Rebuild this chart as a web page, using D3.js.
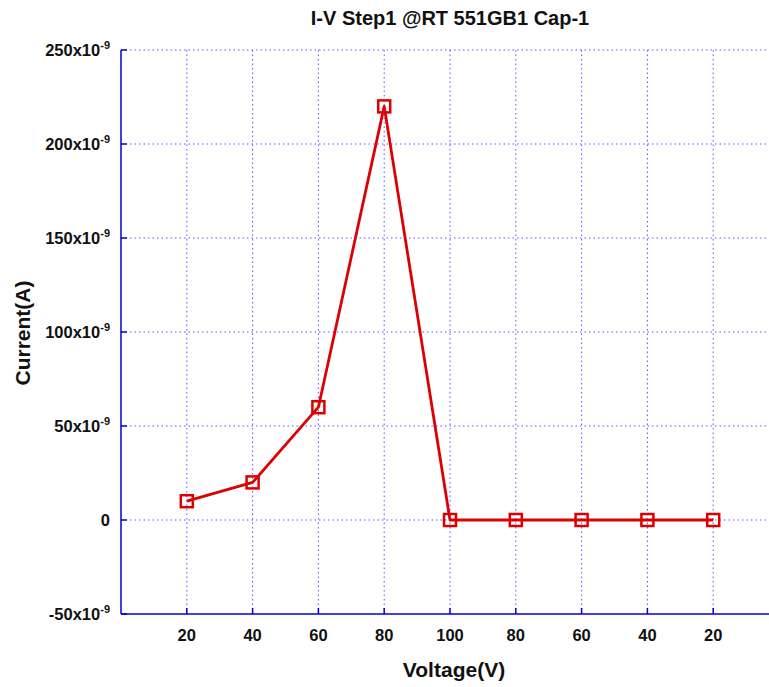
<!DOCTYPE html>
<html><head><meta charset="utf-8">
<script src="https://cdn.jsdelivr.net/npm/d3@7"></script>
<style>body{margin:0;background:#fff;overflow:hidden}svg{display:block;font-family:"Liberation Sans",Arial,sans-serif;font-weight:bold}</style>
</head><body>
<script>
const categories = ["20","40","60","80","100","80","60","40","20"];
const currentValues = [10e-9, 20e-9, 60e-9, 220e-9, 0, 0, 0, 0, 0];
const yTicks = [-50e-9, 0, 50e-9, 100e-9, 150e-9, 200e-9, 250e-9];
const yTickMantissa = ["-50", "0", "50", "100", "150", "200", "250"];

const W = 769, H = 687;
const svg = d3.select("body").append("svg").attr("width", W).attr("height", H);
const pLeft = 121, pTop = 50, pBottom = 614;
const x = d3.scaleLinear().domain([0, 10]).range([pLeft, 779]);
const y = d3.scaleLinear().domain([-50e-9, 250e-9]).range([pBottom, pTop]);

const gridColor = "#3a3aff";
// horizontal grid
svg.append("g").selectAll("line").data(yTicks.filter(v => v > -50e-9)).join("line")
  .attr("x1", pLeft).attr("x2", W).attr("y1", d => y(d)).attr("y2", d => y(d))
  .attr("stroke", gridColor).attr("stroke-width", 1).attr("stroke-dasharray", "1.5,3").attr("opacity", 0.85);
// vertical grid
svg.append("g").selectAll("line").data(categories.map((c, i) => i + 1)).join("line")
  .attr("x1", d => x(d)).attr("x2", d => x(d)).attr("y1", pTop).attr("y2", pBottom)
  .attr("stroke", gridColor).attr("stroke-width", 1).attr("stroke-dasharray", "1.5,3").attr("opacity", 0.85);

// axes lines
const axisColor = "#0000dd";
svg.append("line").attr("x1", pLeft).attr("x2", pLeft).attr("y1", pTop).attr("y2", pBottom)
  .attr("stroke", axisColor).attr("stroke-width", 1.5);
svg.append("line").attr("x1", pLeft).attr("x2", W).attr("y1", pBottom).attr("y2", pBottom)
  .attr("stroke", axisColor).attr("stroke-width", 1.5);
// tick marks
svg.append("g").selectAll("line").data(yTicks).join("line")
  .attr("x1", pLeft).attr("x2", pLeft + 6).attr("y1", d => y(d)).attr("y2", d => y(d))
  .attr("stroke", axisColor).attr("stroke-width", 1.5);
svg.append("g").selectAll("line").data(categories.map((c, i) => i + 1)).join("line")
  .attr("x1", d => x(d)).attr("x2", d => x(d)).attr("y1", pBottom).attr("y2", pBottom - 6)
  .attr("stroke", axisColor).attr("stroke-width", 1.5);

// y tick labels
const yl = svg.append("g").selectAll("text").data(yTicks).join("text")
  .attr("x", 110).attr("y", d => y(d) + 6).attr("text-anchor", "end")
  .attr("font-size", 16.5).attr("fill", "#111");
yl.each(function(d, i) {
  const t = d3.select(this);
  if (d === 0) { t.text("0"); return; }
  t.append("tspan").text(yTickMantissa[i] + "x10");
  t.append("tspan").attr("dy", -7).attr("font-size", 11).text("-9");
});

// x tick labels
svg.append("g").selectAll("text").data(categories).join("text")
  .attr("x", (d, i) => x(i + 1)).attr("y", 641).attr("text-anchor", "middle")
  .attr("font-size", 16.5).attr("fill", "#111").text(d => d);

// series line
const red = "#dd0000";
const line = d3.line().x((d, i) => x(i + 1)).y(d => y(d));
svg.append("path").datum(currentValues).attr("d", line)
  .attr("fill", "none").attr("stroke", red).attr("stroke-width", 2.8).attr("stroke-linejoin", "round");
svg.append("g").selectAll("rect").data(currentValues).join("rect")
  .attr("x", (d, i) => x(i + 1) - 6).attr("y", d => y(d) - 6)
  .attr("width", 12).attr("height", 12)
  .attr("fill", "none").attr("stroke", red).attr("stroke-width", 2.5);

// titles
svg.append("text").attr("x", 450).attr("y", 25).attr("text-anchor", "middle")
  .attr("font-size", 20).attr("fill", "#111").text("I-V Step1 @RT 551GB1 Cap-1");
svg.append("text").attr("x", 454).attr("y", 677).attr("text-anchor", "middle")
  .attr("font-size", 21).attr("fill", "#111").text("Voltage(V)");
svg.append("text").attr("transform", "translate(30,333) rotate(-90)").attr("text-anchor", "middle")
  .attr("font-size", 21).attr("fill", "#111").text("Current(A)");
</script>
</body></html>
